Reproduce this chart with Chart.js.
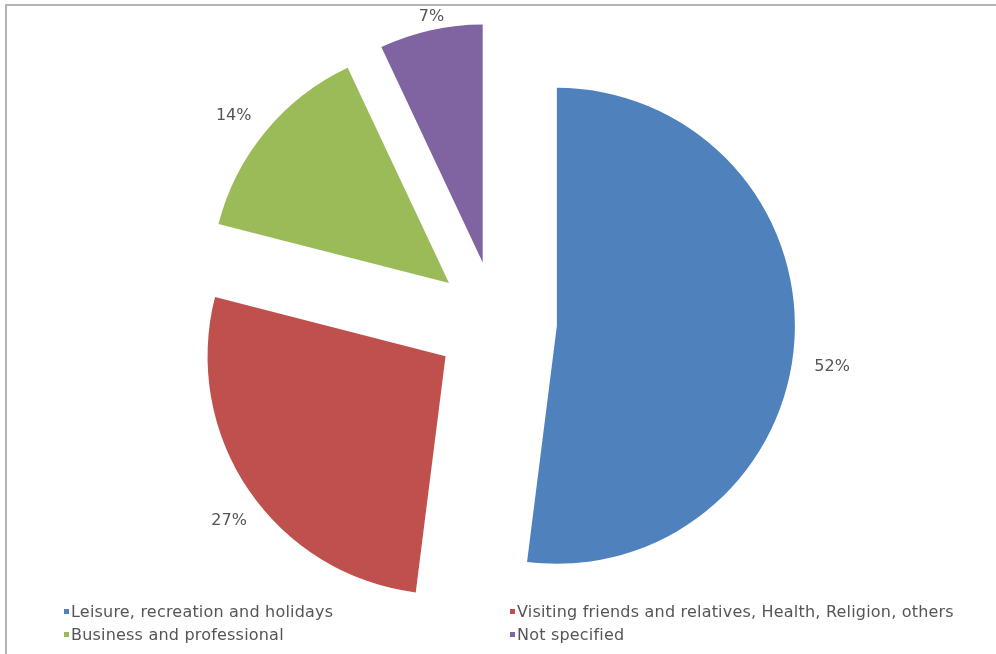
<!DOCTYPE html>
<html>
<head>
<meta charset="utf-8">
<script src="https://cdn.jsdelivr.net/npm/chart.js@4"></script>
<style>
  html, body { margin: 0; padding: 0; background: #fff; }
  #wrap { position: relative; width: 996px; height: 654px; overflow: hidden; }
  #frame {
    position: absolute; left: 5px; top: 4px; right: -4px; bottom: -4px;
    border-top: 2px solid #b4b4b4; border-left: 2px solid #b4b4b4;
  }
  #chart { position: absolute; left: 0; top: 0; }
  .legend { position: absolute; font-family: "DejaVu Sans", sans-serif; font-size: 16px;
    color: #555; white-space: nowrap; line-height: 18px; letter-spacing: 0.2px; }
  .legend i { display: inline-block; width: 5px; height: 5px; margin-right: 2px;
    vertical-align: 3px; }
</style>
</head>
<body>
<div id="wrap">
  <div id="frame"></div>
  <canvas id="chart" width="996" height="654"></canvas>
</div>
<script>
/* ── Purpose of visit shares ── */
const categories = [
  'Leisure, recreation and holidays',
  'Visiting friends and relatives, Health, Religion, others',
  'Business and professional',
  'Not specified'
];
const shares = [52, 27, 14, 7];
const sliceColors = ['#4F81BD', '#C0504D', '#9BBB59', '#8064A2'];

/* legend grid: [column x, row y] for each category */
const legendSlots = [[64, 603], [510, 603], [64, 626], [510, 626]];
/* small hand nudges for the percentage labels, px */
const labelNudge = [[8, 25], [5, 20], [-9, -3], [6, 6]];

const EXPLODE = 61;   // px each slice is pulled out from the centre

/* Shift every arc outward along its mid-angle, after layout */
const explodePlugin = {
  id: 'explode',
  afterDatasetsUpdate(chart) {
    chart.getDatasetMeta(0).data.forEach(arc => {
      const mid = (arc.startAngle + arc.endAngle) / 2;
      arc.x += Math.cos(mid) * EXPLODE;
      arc.y += Math.sin(mid) * EXPLODE;
    });
  }
};

/* Percentage labels just outside each slice */
const pctLabels = {
  id: 'pctLabels',
  afterDatasetsDraw(chart) {
    const ctx = chart.ctx;
    ctx.save();
    ctx.font = '16px "DejaVu Sans", sans-serif';
    ctx.fillStyle = '#555';
    ctx.textAlign = 'center';
    ctx.textBaseline = 'middle';
    chart.getDatasetMeta(0).data.forEach((arc, i) => {
      const mid = (arc.startAngle + arc.endAngle) / 2;
      const text = shares[i] + '%';
      const w = ctx.measureText(text).width;
      const r = arc.outerRadius + 12;
      const x = arc.x + Math.cos(mid) * (r + w / 2) + labelNudge[i][0];
      const y = arc.y + Math.sin(mid) * (r + 8) + labelNudge[i][1];
      ctx.fillText(text, x, y);
    });
    ctx.restore();
  }
};

new Chart(document.getElementById('chart'), {
  type: 'pie',
  data: {
    labels: categories,
    datasets: [{
      data: shares,
      backgroundColor: sliceColors,
      borderWidth: 0
    }]
  },
  options: {
    responsive: false,
    animation: false,
    radius: 238,
    layout: { padding: { left: 0, right: 4, top: 0, bottom: 10 } },
    plugins: {
      legend: { display: false },
      tooltip: { enabled: false }
    }
  },
  plugins: [explodePlugin, pctLabels]
});

/* Two-column legend under the pie */
const wrap = document.getElementById('wrap');
categories.forEach((name, i) => {
  const el = document.createElement('div');
  el.className = 'legend';
  el.style.left = legendSlots[i][0] + 'px';
  el.style.top = legendSlots[i][1] + 'px';
  el.innerHTML = '<i style="background:' + sliceColors[i] + '"></i>' + name;
  wrap.appendChild(el);
});
</script>
</body>
</html>
